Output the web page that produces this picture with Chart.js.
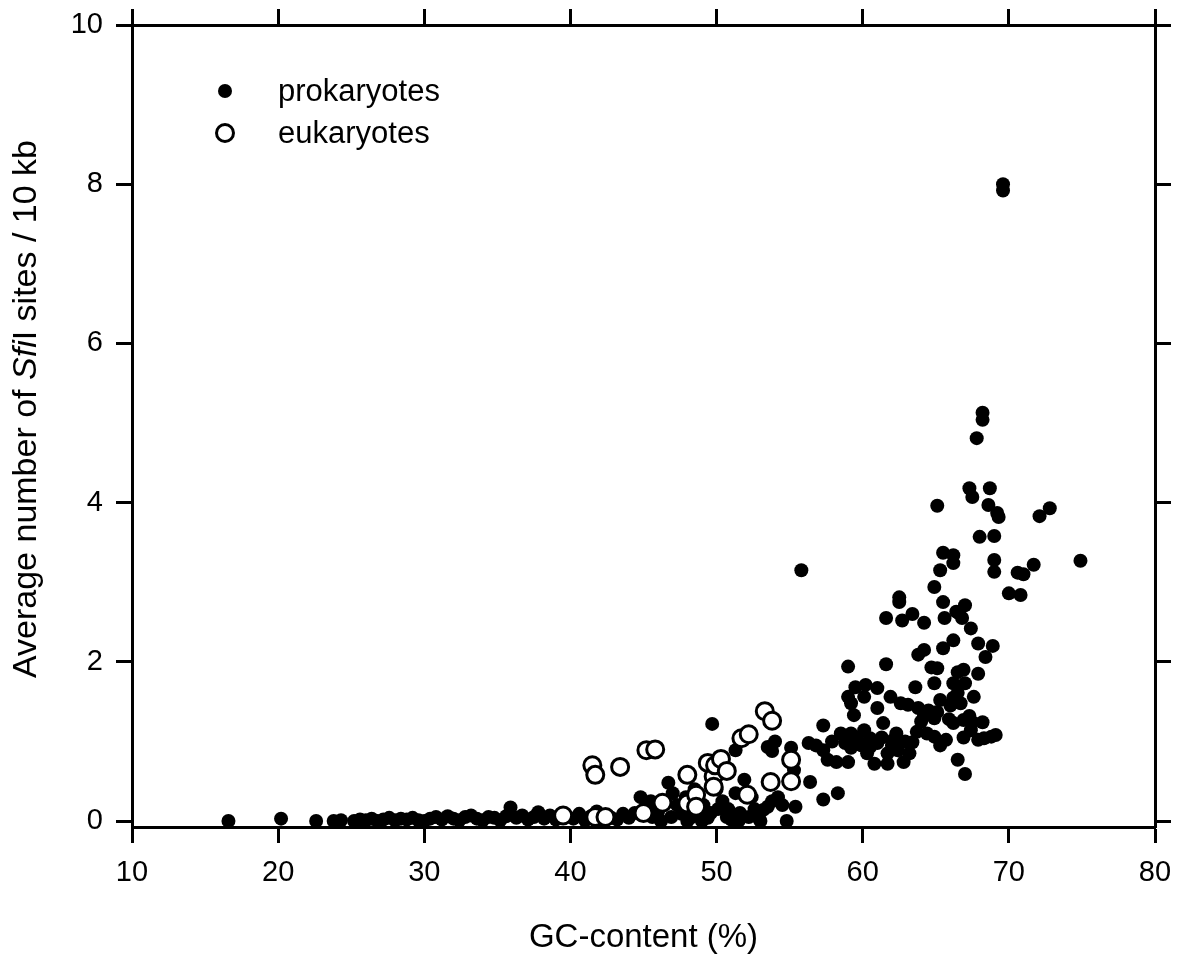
<!DOCTYPE html>
<html>
<head>
<meta charset="utf-8">
<script src="https://cdn.jsdelivr.net/npm/chart.js@4"></script>
<style>
  html, body { margin: 0; padding: 0; background: #fff; }
  canvas { display: block; }
</style>
</head>
<body>
<canvas id="gcChart" width="1178" height="963"></canvas>
<script>
// axis ticks
const xTicks = [10, 20, 30, 40, 50, 60, 70, 80];
const yTicks = [0, 2, 4, 6, 8, 10];

// prokaryotes: GC-content (%) and SfiI sites / 10 kb
const prokGC = [
    16.6, 20.2, 22.6, 23.8, 24.3, 25.2, 25.6, 26.0, 26.4, 26.8,
    27.2, 27.6, 28.0, 28.4, 28.8, 29.2, 29.6, 30.0, 30.4, 30.8,
    31.2, 31.6, 32.0, 32.4, 32.8, 33.2, 33.6, 34.0, 34.4, 34.8,
    35.2, 35.6, 35.9, 36.3, 36.7, 37.1, 37.5, 37.8, 38.2, 38.6,
    39.0, 39.4, 40.2, 40.6, 41.0, 41.4, 41.8, 42.2, 42.8, 43.2,
    43.6, 44.0, 44.4, 44.8, 45.2, 45.6, 46.0, 46.7, 46.9, 47.3,
    47.6, 47.9, 48.3, 48.7, 49.1, 49.4, 49.7, 50.1, 50.4, 50.7,
    51.0, 51.3, 51.3, 51.6, 51.9, 52.2, 52.6, 52.9, 53.2, 53.5,
    53.5, 54.0, 54.2, 54.5, 55.1, 55.3, 55.4, 55.8, 56.3, 56.4,
    57.3, 57.3, 57.3, 57.6, 58.2, 58.3, 58.5, 59.0, 59.0, 59.0,
    59.2, 59.2, 59.2, 59.4, 59.5, 59.9, 60.1, 60.1, 60.2, 60.5,
    60.5, 61.0, 61.0, 61.0, 61.4, 61.6, 61.6, 61.7, 61.7, 61.9,
    62.1, 62.4, 62.5, 62.5, 62.6, 62.7, 62.8, 63.1, 63.4, 63.4,
    63.6, 63.8, 63.8, 64.2, 64.2, 64.2, 64.5, 64.7, 64.9, 64.9,
    64.9, 64.9, 65.1, 65.1, 65.1, 65.3, 65.3, 65.3, 65.5, 65.5,
    65.5, 65.6, 66.2, 66.2, 66.2, 66.2, 66.2, 66.2, 66.4, 66.5,
    66.5, 66.5, 66.6, 66.7, 66.8, 66.9, 66.9, 67.0, 67.0, 67.0,
    67.3, 67.4, 67.4, 67.5, 67.5, 67.6, 67.8, 67.9, 67.9, 67.9,
    68.0, 68.2, 68.2, 68.2, 68.3, 68.4, 68.6, 68.7, 68.8, 68.9,
    69.0, 69.0, 69.0, 69.1, 69.2, 69.3, 69.6, 69.6, 70.0, 70.6,
    70.8, 71.0, 71.7, 72.1, 72.8, 74.9,
    // extra points in the crowded parts
    45.5, 46.2, 47.0, 48.0, 48.5, 49.0, 49.6, 50.0, 50.8, 51.5,
    52.4, 53.0, 53.8, 54.8, 53.8, 56.8, 57.9, 58.8, 59.6, 60.3,
    60.8, 61.3, 62.0, 62.3, 62.9, 63.2, 63.7, 64.0, 64.4, 65.7,
    65.9, 66.0, 66.9, 67.3
];
const prokSites = [
    0.00, 0.03, 0.00, 0.00, 0.01, 0.00, 0.02, 0.01, 0.03, 0.00,
    0.02, 0.04, 0.01, 0.03, 0.02, 0.04, 0.01, 0.00, 0.03, 0.05,
    0.02, 0.06, 0.03, 0.01, 0.05, 0.07, 0.03, 0.01, 0.05, 0.04,
    0.01, 0.06, 0.17, 0.04, 0.07, 0.02, 0.05, 0.11, 0.03, 0.07,
    0.02, 0.05, 0.03, 0.09, 0.01, 0.06, 0.12, 0.00, 0.04, 0.02,
    0.09, 0.04, 0.10, 0.30, 0.16, 0.05, 0.12, 0.48, 0.05, 0.20,
    0.09, 0.30, 0.05, 0.12, 0.20, 0.04, 1.22, 0.15, 0.25, 0.05,
    0.02, 0.35, 0.89, 0.10, 0.52, 0.05, 0.15, 0.03, 0.14, 0.18,
    0.93, 1.00, 0.30, 0.20, 0.92, 0.64, 0.18, 3.15, 0.98, 0.49,
    1.20, 0.89, 0.27, 0.77, 0.74, 0.35, 1.10, 0.74, 1.94, 1.56,
    1.10, 0.92, 1.48, 1.33, 1.68, 0.95, 1.14, 1.56, 1.71, 1.04,
    0.93, 1.67, 1.42, 0.98, 1.23, 2.55, 1.97, 0.85, 0.72, 1.56,
    1.02, 0.89, 2.81, 2.75, 1.48, 2.52, 0.74, 1.46, 2.60, 0.99,
    1.68, 2.09, 1.42, 2.49, 2.15, 1.33, 1.39, 1.93, 2.94, 1.73,
    1.29, 1.06, 1.92, 1.37, 3.96, 3.15, 1.52, 0.95, 3.37, 2.75,
    2.17, 2.55, 3.34, 3.24, 2.27, 1.55, 1.23, 1.73, 2.63, 1.87,
    1.61, 0.77, 2.61, 1.48, 2.55, 1.90, 1.27, 2.71, 1.73, 0.59,
    4.18, 2.42, 1.14, 4.07, 1.24, 1.56, 4.81, 2.23, 1.85, 1.02,
    3.57, 5.13, 5.04, 1.24, 1.04, 2.06, 3.97, 4.18, 1.06, 2.20,
    3.58, 3.28, 3.13, 1.08, 3.87, 3.82, 7.92, 8.00, 2.86, 3.12,
    2.84, 3.10, 3.22, 3.83, 3.93, 3.27,
    0.25, 0.00, 0.35, 0.00, 0.40, 0.00, 0.10, 0.40, 0.15, 0.00,
    0.30, 0.00, 0.25, 0.00, 0.88, 0.95, 1.00, 0.98, 1.05, 0.85,
    0.72, 1.05, 0.95, 1.10, 1.00, 0.85, 1.12, 1.25, 1.10, 1.02,
    1.28, 1.45, 1.05, 1.32
];

// eukaryotes
const eukGC = [
    39.5, 41.5, 41.7, 41.7, 42.4, 43.4, 45.0, 45.2, 45.8, 46.3,
    48.0, 48.0, 48.6, 48.6, 49.4, 49.8, 49.8, 49.9, 50.3, 50.7,
    51.7, 52.2, 52.1, 53.3, 53.8, 53.7, 55.1, 55.1
];
const eukSites = [
    0.07, 0.70, 0.58, 0.05, 0.05, 0.68, 0.10, 0.89, 0.90, 0.23,
    0.58, 0.22, 0.33, 0.18, 0.73, 0.56, 0.43, 0.70, 0.78, 0.63,
    1.04, 1.09, 0.33, 1.38, 1.26, 0.49, 0.77, 0.50
];

const FONT = "'Liberation Sans', Arial, sans-serif";

function toPoints(xs, ys) {
    return xs.map((x, i) => ({ x: x, y: ys[i] }));
}

// outward tick marks, thick black frame
function frameAxis(position, size, extra) {
    return Object.assign({
        type: "linear",
        position: position,
        grid: {
            drawOnChartArea: false,
            drawTicks: true,
            tickLength: 16,
            tickWidth: 3,
            color: "#000"
        },
        border: { display: true, color: "#000", width: 3 },
        ticks: { display: false },
        afterFit: s => {
            if (s.isHorizontal()) s.height = size;
            else s.width = size;
            // keep the plot box fixed, labels may overhang
            s.paddingTop = s.paddingBottom = s.paddingLeft = s.paddingRight = 0;
        }
    }, extra);
}

/* legend + y title drawn by hand (mixed italic in title) */
const decorPlugin = {
    id: "decor",
    afterDraw(chart) {
        const ctx = chart.ctx;
        ctx.save();

        // legend
        ctx.fillStyle = "#000";
        ctx.beginPath();
        ctx.arc(225, 91, 7, 0, Math.PI * 2);
        ctx.fill();

        ctx.lineWidth = 3;
        ctx.strokeStyle = "#000";
        ctx.fillStyle = "#fff";
        ctx.beginPath();
        ctx.arc(225, 133, 8.5, 0, Math.PI * 2);
        ctx.fill();
        ctx.stroke();

        ctx.fillStyle = "#000";
        ctx.font = "31px " + FONT;
        ctx.textBaseline = "middle";
        ctx.textAlign = "left";
        ctx.fillText("prokaryotes", 278, 92);
        ctx.fillText("eukaryotes", 278, 134);

        // y axis title
        const parts = [
            { t: "Average number of ", it: false },
            { t: "Sfi", it: true },
            { t: "I sites / 10 kb", it: false }
        ];
        const size = 34;
        let total = 0;
        parts.forEach(p => {
            ctx.font = (p.it ? "italic " : "") + size + "px " + FONT;
            p.w = ctx.measureText(p.t).width;
            total += p.w;
        });
        ctx.translate(27, 409);
        ctx.rotate(-Math.PI / 2);
        let cx = -total / 2;
        parts.forEach(p => {
            ctx.font = (p.it ? "italic " : "") + size + "px " + FONT;
            ctx.fillText(p.t, cx, 0);
            cx += p.w;
        });

        ctx.restore();
    }
};

new Chart(document.getElementById("gcChart"), {
    type: "scatter",
    data: {
        datasets: [
            {
                label: "eukaryotes",
                data: toPoints(eukGC, eukSites),
                pointRadius: 8.5,
                pointBorderWidth: 3,
                borderColor: "#000",
                backgroundColor: "#fff",
                order: 0,
                clip: false
            },
            {
                label: "prokaryotes",
                data: toPoints(prokGC, prokSites),
                pointRadius: 7,
                pointBorderWidth: 0,
                borderColor: "#000",
                backgroundColor: "#000",
                order: 1,
                clip: false
            }
        ]
    },
    options: {
        responsive: false,
        animation: false,
        layout: { padding: 0 },
        plugins: {
            legend: { display: false },
            tooltip: { enabled: false }
        },
        scales: {
            x: frameAxis("bottom", 136, {
                min: 10, max: 80,
                afterBuildTicks: s => { s.ticks = xTicks.map(v => ({ value: v })); },
                ticks: {
                    display: true, color: "#000", padding: 13,
                    maxRotation: 0,
                    font: { family: FONT, size: 29 }
                },
                title: {
                    display: true,
                    text: "GC-content (%)",
                    color: "#000",
                    font: { family: FONT, size: 33 },
                    padding: { top: 4, bottom: 5 }
                }
            }),
            x2: frameAxis("top", 25, {
                min: 10, max: 80,
                afterBuildTicks: s => { s.ticks = xTicks.map(v => ({ value: v })); }
            }),
            y: frameAxis("left", 132, {
                min: -0.075, max: 10,
                afterBuildTicks: s => { s.ticks = yTicks.map(v => ({ value: v })); },
                ticks: {
                    display: true, color: "#000", padding: 13,
                    font: { family: FONT, size: 29 }
                }
            }),
            y2: frameAxis("right", 23, {
                min: -0.075, max: 10,
                afterBuildTicks: s => { s.ticks = yTicks.map(v => ({ value: v })); }
            })
        }
    },
    plugins: [decorPlugin]
});
</script>
</body>
</html>
